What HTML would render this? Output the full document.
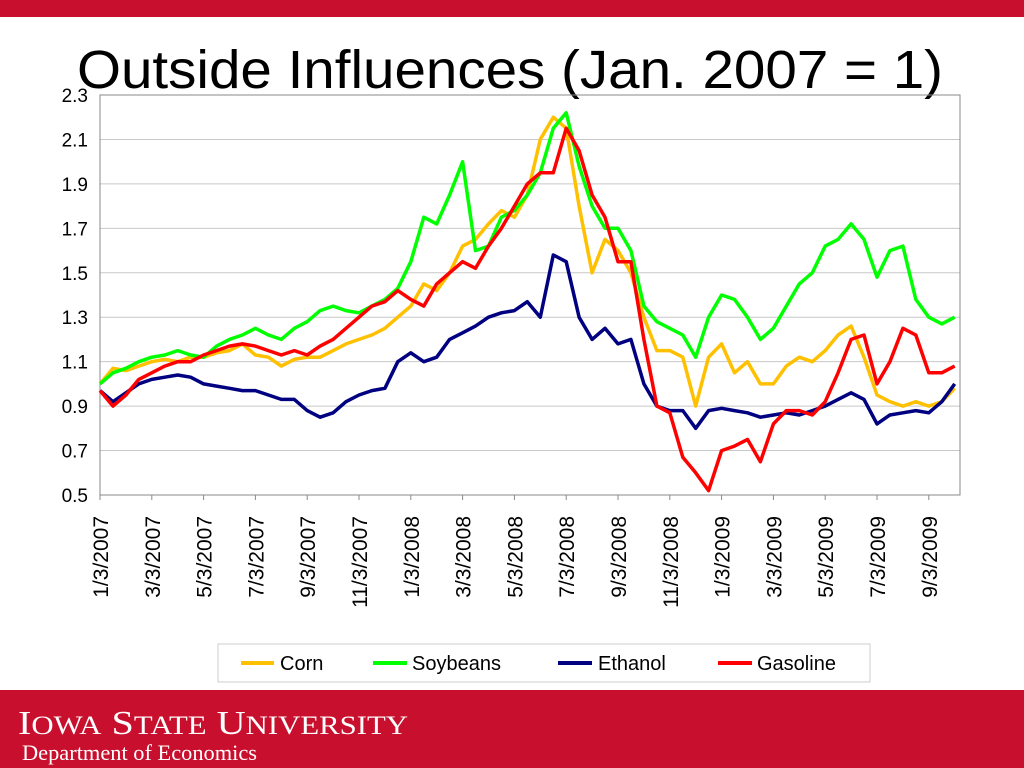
<!DOCTYPE html>
<html><head><meta charset="utf-8"><style>
html,body{margin:0;padding:0;background:#fff;}
svg{display:block;font-family:"Liberation Sans",sans-serif;}
</style></head><body>
<svg id="chart" width="1024" height="768" viewBox="0 0 1024 768">
<rect x="0" y="0" width="1024" height="17" fill="#C8102E"/>
<text x="510" y="88" text-anchor="middle" font-size="54" textLength="866" lengthAdjust="spacingAndGlyphs" fill="#000">Outside Influences (Jan. 2007 = 1)</text>
<g id="grid"></g>
<rect x="100" y="95" width="860" height="400" fill="none" stroke="#888" stroke-width="1"/>
<g id="yticks"></g>
<g id="xticks"></g>
<g id="series"></g>
<g>
<rect x="218" y="644" width="652" height="38" fill="#fff" stroke="#ccc"/>
<g><line x1="241" y1="663" x2="274" y2="663" stroke="#FFC000" stroke-width="4"/><text x="280" y="670" font-size="20">Corn</text></g>
<g><line x1="373" y1="663" x2="407" y2="663" stroke="#00FF00" stroke-width="4"/><text x="412" y="670" font-size="20">Soybeans</text></g>
<g><line x1="558" y1="663" x2="592" y2="663" stroke="#000080" stroke-width="4"/><text x="598" y="670" font-size="20">Ethanol</text></g>
<g><line x1="718" y1="663" x2="752" y2="663" stroke="#FF0000" stroke-width="4"/><text x="757" y="670" font-size="20">Gasoline</text></g>
</g>
<rect x="0" y="690" width="1024" height="78" fill="#C8102E"/>
<text x="18" y="734" fill="#fff" font-family="Liberation Serif, serif" font-size="34" textLength="390" lengthAdjust="spacingAndGlyphs">I<tspan font-size="26">OWA</tspan> S<tspan font-size="26">TATE</tspan> U<tspan font-size="26">NIVERSITY</tspan></text>
<text x="22" y="760" fill="#fff" font-family="Liberation Serif, serif" font-size="22" textLength="235" lengthAdjust="spacingAndGlyphs">Department of Economics</text>
</svg>
<script>
const xTickLabels=["1/3/2007","3/3/2007","5/3/2007","7/3/2007","9/3/2007","11/3/2007","1/3/2008","3/3/2008","5/3/2008","7/3/2008","9/3/2008","11/3/2008","1/3/2009","3/3/2009","5/3/2009","7/3/2009","9/3/2009"];
const yTicks=[0.5,0.7,0.9,1.1,1.3,1.5,1.7,1.9,2.1,2.3];
const corn=[1.0,1.07,1.06,1.08,1.1,1.11,1.1,1.12,1.12,1.14,1.15,1.18,1.13,1.12,1.08,1.11,1.12,1.12,1.15,1.18,1.2,1.22,1.25,1.3,1.35,1.45,1.42,1.5,1.62,1.65,1.72,1.78,1.75,1.85,2.1,2.2,2.15,1.8,1.5,1.65,1.6,1.5,1.3,1.15,1.15,1.12,0.9,1.12,1.18,1.05,1.1,1.0,1.0,1.08,1.12,1.1,1.15,1.22,1.26,1.12,0.95,0.92,0.9,0.92,0.9,0.92,0.98];
const soybeans=[1.0,1.05,1.07,1.1,1.12,1.13,1.15,1.13,1.12,1.17,1.2,1.22,1.25,1.22,1.2,1.25,1.28,1.33,1.35,1.33,1.32,1.35,1.38,1.43,1.55,1.75,1.72,1.85,2.0,1.6,1.62,1.75,1.78,1.85,1.95,2.15,2.22,1.98,1.8,1.7,1.7,1.6,1.35,1.28,1.25,1.22,1.12,1.3,1.4,1.38,1.3,1.2,1.25,1.35,1.45,1.5,1.62,1.65,1.72,1.65,1.48,1.6,1.62,1.38,1.3,1.27,1.3];
const ethanol=[0.97,0.92,0.96,1.0,1.02,1.03,1.04,1.03,1.0,0.99,0.98,0.97,0.97,0.95,0.93,0.93,0.88,0.85,0.87,0.92,0.95,0.97,0.98,1.1,1.14,1.1,1.12,1.2,1.23,1.26,1.3,1.32,1.33,1.37,1.3,1.58,1.55,1.3,1.2,1.25,1.18,1.2,1.0,0.9,0.88,0.88,0.8,0.88,0.89,0.88,0.87,0.85,0.86,0.87,0.86,0.88,0.9,0.93,0.96,0.93,0.82,0.86,0.87,0.88,0.87,0.92,1.0];
const gasoline=[0.97,0.9,0.95,1.02,1.05,1.08,1.1,1.1,1.13,1.15,1.17,1.18,1.17,1.15,1.13,1.15,1.13,1.17,1.2,1.25,1.3,1.35,1.37,1.42,1.38,1.35,1.45,1.5,1.55,1.52,1.62,1.7,1.8,1.9,1.95,1.95,2.15,2.05,1.85,1.75,1.55,1.55,1.2,0.9,0.87,0.67,0.6,0.52,0.7,0.72,0.75,0.65,0.82,0.88,0.88,0.86,0.92,1.05,1.2,1.22,1.0,1.1,1.25,1.22,1.05,1.05,1.08];
const NS="http://www.w3.org/2000/svg";
const X0=100,X1=960,Y0=495,Y1=95;
function yScale(v){return Y0-(v-0.5)/(2.3-0.5)*(Y0-Y1);}
function xScale(i){return X0+i*12.95;}
function tickX(k){return X0+k*51.8;}
const grid=document.getElementById('grid'),yt=document.getElementById('yticks'),xt=document.getElementById('xticks'),ser=document.getElementById('series');
yTicks.forEach(v=>{
  const y=yScale(v);
  const l=document.createElementNS(NS,'line');
  l.setAttribute('x1',X0);l.setAttribute('x2',X1);l.setAttribute('y1',y);l.setAttribute('y2',y);
  l.setAttribute('stroke','#c8c8c8');l.setAttribute('stroke-width','1');
  
  
  grid.appendChild(l);
  const t=document.createElementNS(NS,'text');
  t.setAttribute('x',88);t.setAttribute('y',y+7);t.setAttribute('text-anchor','end');t.setAttribute('font-size','19');
  t.textContent=v.toFixed(1);
  
  
  yt.appendChild(t);
});
xTickLabels.forEach((s,k)=>{
  const x=tickX(k);
  const l=document.createElementNS(NS,'line');
  l.setAttribute('x1',x);l.setAttribute('x2',x);l.setAttribute('y1',Y0);l.setAttribute('y2',Y0+5);l.setAttribute('stroke','#888');
  
  
  xt.appendChild(l);
  const t=document.createElementNS(NS,'text');
  t.setAttribute('transform','translate('+(x+8)+',516) rotate(-90)');
  t.setAttribute('text-anchor','end');t.setAttribute('font-size','21');
  t.textContent=s;
  
  
  xt.appendChild(t);
});
[[corn,'#FFC000','corn-line'],[soybeans,'#00FF00','soybeans-line'],[ethanol,'#000080','ethanol-line'],[gasoline,'#FF0000','gasoline-line']].forEach(([d,c,n])=>{
  const p=document.createElementNS(NS,'polyline');
  p.setAttribute('points',d.map((v,i)=>xScale(i).toFixed(1)+','+yScale(v).toFixed(1)).join(' '));
  p.setAttribute('fill','none');p.setAttribute('stroke',c);p.setAttribute('stroke-width','3.5');p.setAttribute('stroke-linejoin','round');
  
  
  ser.appendChild(p);
});
</script>
</body></html>
